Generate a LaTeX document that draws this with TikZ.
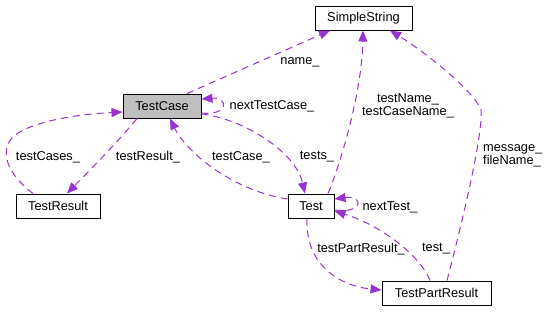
\documentclass[tikz,border=0pt]{standalone}
\usepackage{fontspec}
\setmainfont{Liberation Sans}
\usetikzlibrary{arrows.meta}
\definecolor{edgecol}{HTML}{9A32CD}
\definecolor{curfill}{HTML}{BFBFBF}
\begin{document}
\begin{tikzpicture}[x=1pt,y=-1pt,
  every node/.style={font=\fontsize{12.8}{13.5}\selectfont, inner sep=0pt},
  classbox/.style={draw=black, line width=1pt, fill=white, minimum height=24pt},
  rel/.style={draw=edgecol, line width=1pt, dash pattern=on 7pt off 5pt,
    -{Triangle[length=11pt,width=9pt,fill=edgecol]}},
  lbl/.style={text=black, align=center}]
\useasboundingbox (0,0) rectangle (551,311);

% classes
\node[classbox, minimum width=97pt] (ss) at (363.5,18) {SimpleString};
\node[classbox, minimum width=78pt, fill=curfill] (tc) at (162,106) {TestCase};
\node[classbox, minimum width=84pt] (tr) at (58,206) {TestResult};
\node[classbox, minimum width=46pt] (t) at (311,206) {Test};
\node[classbox, minimum width=109pt] (tpr) at (436.5,293) {TestPartResult};

% relations
\draw[rel] (tc.north -| 187,0) -- (ss.south -| 330,0);
\draw[rel] (tc.east |- 0,113) .. controls (229,116) and (229,97) .. (tc.east |- 0,99);
\draw[rel] (tc.south -| 137,0) .. controls (115,145) and (88,172) .. (tr.north -| 67,0);
\draw[rel] (tr.north -| 33,0) .. controls (15,180) and (0,160) .. (9,142)
  .. controls (20,122) and (80,114) .. (tc.west |- 0,112);
\draw[rel] (tc.east |- 0,114) .. controls (240,118) and (295,150) .. (t.north -| 305,0);
\draw[rel] (t.west |- 0,199) .. controls (230,190) and (185,150) .. (tc.south -| 170,0);
\draw[rel] (t.north -| 328,0) .. controls (342,160) and (362,90) .. (ss.south -| 363,0);
\draw[rel] (tpr.north -| 447,0) .. controls (468,200) and (483,130) .. (481,110)
  .. controls (477,95) and (430,55) .. (ss.south -| 390,0);
\draw[rel] (t.east |- 0,210) .. controls (364,214) and (364,195) .. (t.east |- 0,199);
\draw[rel] (t.south -| 307,0) .. controls (305,265) and (340,286) .. (tpr.west |- 0,290);
\draw[rel] (tpr.north -| 430,0) .. controls (420,255) and (380,225) .. (t.east |- 0,211);

% labels
\node[lbl] (lname) at (300,62) {name\_};
\node[lbl] (lnexttc) at (272,106) {nextTestCase\_};
\node[lbl] (ltcs) at (48,157) {testCases\_};
\node[lbl] (ltr) at (148,157) {testResult\_};
\node[lbl] (ltc) at (241,157) {testCase\_};
\node[lbl] (ltests) at (317,157) {tests\_};
\node[lbl] (lnames) at (408,106) {testName\_\\testCaseName\_};
\node[lbl, align=left, anchor=west] (lmsg) at (483,156) {message\_\\fileName\_};
\node[lbl] (lnextt) at (390,207) {nextTest\_};
\node[lbl] (ltpr) at (361,249) {testPartResult\_};
\node[lbl] (ltest) at (436,249) {test\_};
\end{tikzpicture}
\end{document}
